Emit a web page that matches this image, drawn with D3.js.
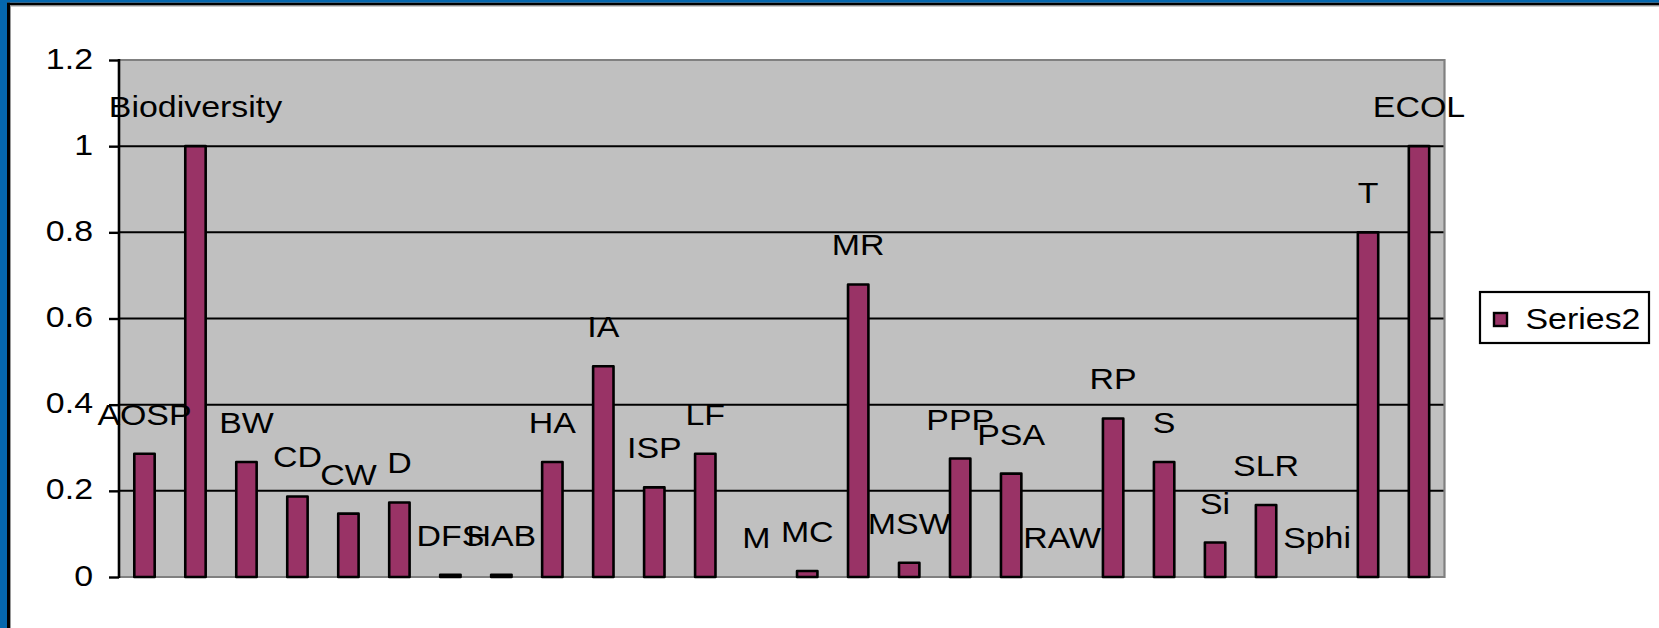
<!DOCTYPE html>
<html>
<head>
<meta charset="utf-8">
<script src="https://cdn.jsdelivr.net/npm/d3@7"></script>
<style>
  html, body { margin: 0; padding: 0; background: #fff; }
  svg { display: block; }
  text { font-family: "Liberation Sans", Arial, sans-serif; }
</style>
</head>
<body>
<svg id="chart" width="1659" height="628"></svg>
<script>
// Category names (also used as the data labels above each bar)
const categories = ["AOSP", "Biodiversity", "BW", "CD", "CW", "D", "DFS", "HAB", "HA", "IA",
  "ISP", "LF", "M", "MC", "MR", "MSW", "PPP", "PSA", "RAW", "RP",
  "S", "Si", "SLR", "Sphi", "T", "ECOL"];

// Series2 values
const series2 = [0.286, 1.0, 0.267, 0.187, 0.147, 0.173, 0.005, 0.005, 0.267, 0.489,
  0.208, 0.286, 0, 0.014, 0.679, 0.033, 0.275, 0.24, 0, 0.368,
  0.267, 0.08, 0.167, 0, 0.8, 1.0];

const seriesName = "Series2";
const yTickValues = [0, 0.2, 0.4, 0.6, 0.8, 1.0, 1.2];
const yTickLabels = ["0", "0.2", "0.4", "0.6", "0.8", "1", "1.2"];

const W = 1659, H = 628;
const plot = { left: 119, right: 1444.5, top: 60, bottom: 577 };
const FONT = 29.5, STRETCH = 1.15;
const BAR = "#993366";

const svg = d3.select("#chart");

// outer frame (blue band with black inner rule on the left and top)
svg.append("rect").attr("x", 0).attr("y", 0).attr("width", W).attr("height", H).attr("fill", "#fff");
svg.append("rect").attr("x", 0).attr("y", 0).attr("width", 7).attr("height", H).attr("fill", "#0567ae");
svg.append("rect").attr("x", 0).attr("y", 0).attr("width", W).attr("height", 2.7).attr("fill", "#0567ae");
svg.append("rect").attr("x", 7).attr("y", 2.7).attr("width", 3).attr("height", H).attr("fill", "#000");
svg.append("rect").attr("x", 7).attr("y", 2.7).attr("width", W).attr("height", 2.8).attr("fill", "#000");
svg.append("line").attr("x1", 10.5).attr("x2", 10.5).attr("y1", 5.5).attr("y2", H)
  .attr("stroke", "#9a9a9a").attr("stroke-width", 1);
svg.append("line").attr("x1", 10).attr("x2", W).attr("y1", 6).attr("y2", 6)
  .attr("stroke", "#9a9a9a").attr("stroke-width", 1);

const x = d3.scaleBand().domain(categories).range([plot.left, plot.right])
  .paddingInner(0.6).paddingOuter(0.3);
const y = d3.scaleLinear().domain([0, 1.2]).range([plot.bottom, plot.top]);

// stretched text helper
function label(g, px, py, str, anchor) {
  const t = g.append("g").attr("transform", `translate(${px},${py}) scale(${STRETCH},1)`);
  t.append("text").attr("x", 0).attr("y", 0).attr("text-anchor", anchor)
    .attr("font-size", FONT).attr("fill", "#000").text(str);
  return t;
}

// plot area
svg.append("rect").attr("x", plot.left).attr("y", plot.top)
  .attr("width", plot.right - plot.left).attr("height", plot.bottom - plot.top)
  .attr("fill", "#c0c0c0");

// gridlines
svg.append("g").selectAll("line").data(yTickValues.filter(v => v > 0 && v < 1.2))
  .join("line")
  .attr("x1", plot.left).attr("x2", plot.right)
  .attr("y1", d => y(d)).attr("y2", d => y(d))
  .attr("stroke", "#000").attr("stroke-width", 2);

// plot border (top / right) and category axis
svg.append("path")
  .attr("d", `M${plot.left},${y(1.2)}H${plot.right}V${y(0) + 1}`)
  .attr("fill", "none").attr("stroke", "#808080").attr("stroke-width", 2.2);
svg.append("line").attr("x1", plot.left).attr("x2", plot.right)
  .attr("y1", y(0)).attr("y2", y(0)).attr("stroke", "#808080").attr("stroke-width", 2.2);

// bars
svg.append("g").selectAll("rect").data(series2)
  .join("rect")
  .attr("x", (d, i) => x(categories[i]))
  .attr("y", d => y(d))
  .attr("width", x.bandwidth())
  .attr("height", d => y(0) - y(d))
  .attr("fill", BAR).attr("stroke", "#000").attr("stroke-width", 2.6)
  .attr("stroke-linejoin", "round");

// value axis
const yAxis = d3.axisLeft(y).tickValues(yTickValues).tickSize(10)
  .tickFormat((d, i) => yTickLabels[i]);
const ax = svg.append("g").attr("transform", `translate(${plot.left},0)`).call(yAxis);
ax.select(".domain").remove();
ax.selectAll(".tick line").attr("stroke", "#000").attr("stroke-width", 2.4);
ax.selectAll(".tick text").remove();
svg.append("line").attr("x1", plot.left).attr("x2", plot.left)
  .attr("y1", y(1.2) - 1).attr("y2", y(0) + 1)
  .attr("stroke", "#000").attr("stroke-width", 2.6);
const tl = svg.append("g");
yTickValues.forEach((v, i) => label(tl, plot.left - 26, y(v) + 8.5, yTickLabels[i], "end"));

// data labels (category names above bars)
const dl = svg.append("g");
series2.forEach((v, i) => {
  label(dl, x(categories[i]) + x.bandwidth() / 2, y(v) - 29, categories[i], "middle");
});

// legend
const lg = svg.append("g");
lg.append("rect").attr("x", 1480).attr("y", 292).attr("width", 169).attr("height", 51)
  .attr("fill", "#fff").attr("stroke", "#000").attr("stroke-width", 2.2);
lg.append("rect").attr("x", 1494).attr("y", 313).attr("width", 13).attr("height", 13)
  .attr("fill", BAR).attr("stroke", "#000").attr("stroke-width", 2.4);
label(lg, 1525.5, 328.5, seriesName, "start");
</script>
</body>
</html>
